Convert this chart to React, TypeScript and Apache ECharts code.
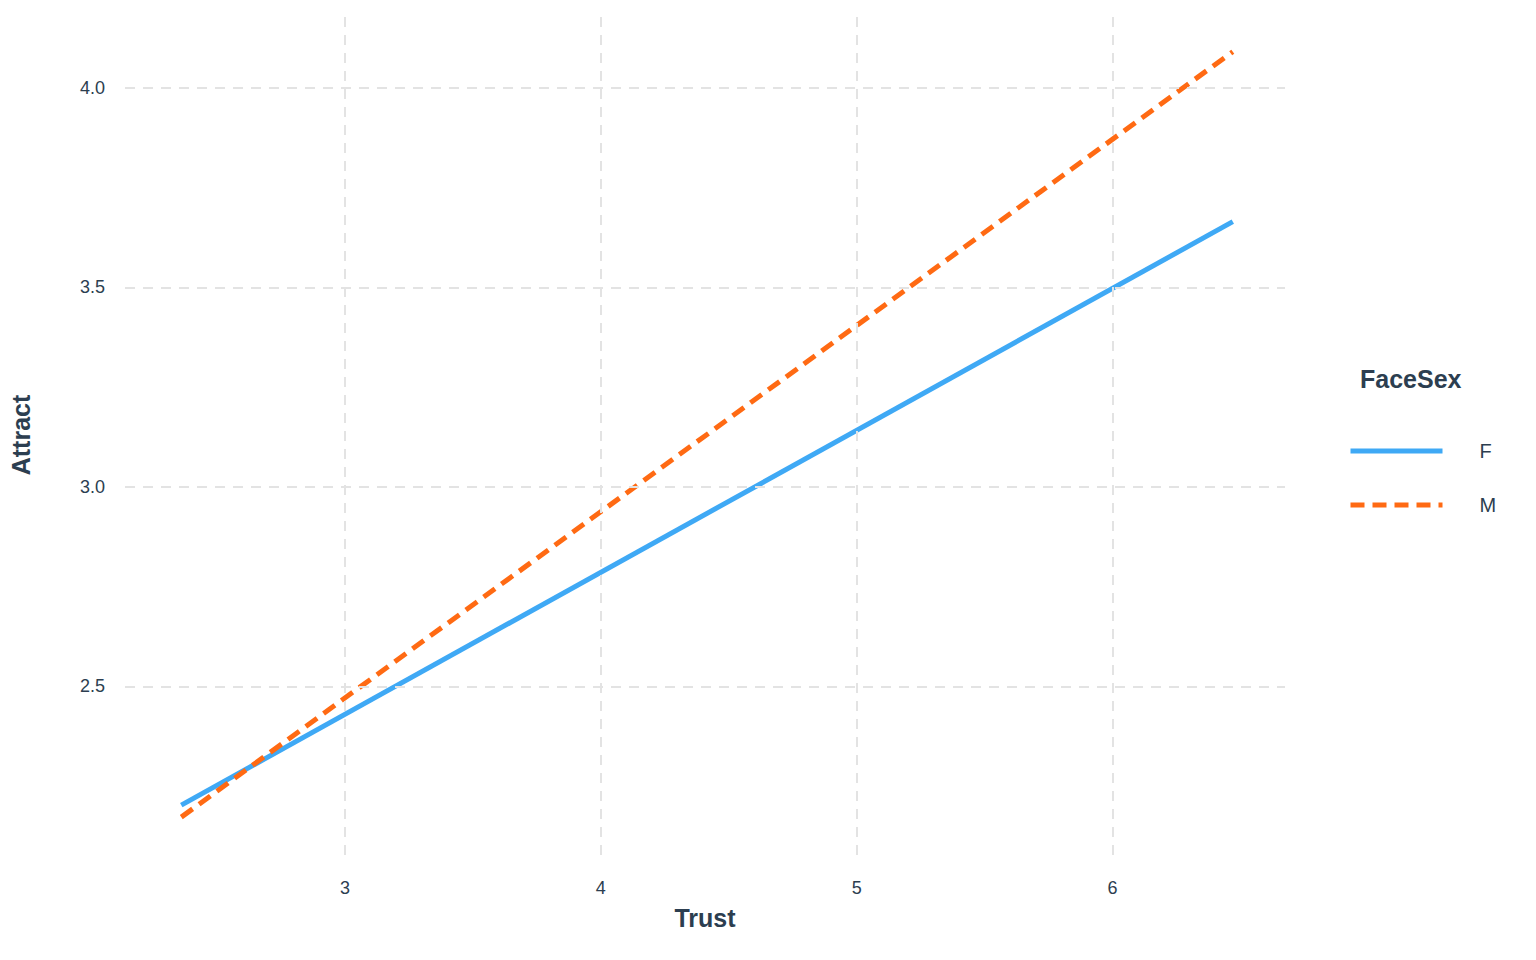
import React, { useEffect, useRef } from 'react';
import * as echarts from 'echarts';

const seriesNames = ['F', 'M'];
const trustRange = [2.36, 6.47];
const attractF = [2.202, 3.665];
const attractM = [2.172, 4.091];
const xTicks = [3, 4, 5, 6];
const yTicks = [2.5, 3.0, 3.5, 4.0];

const TEXT = '#2c3e50';
const FONT = 'Liberation Sans';

const App: React.FC = () => {
  const ref = useRef<HTMLDivElement>(null);

  useEffect(() => {
    if (!ref.current) return;
    document.body.style.margin = '0';
    const chart = echarts.init(ref.current, undefined, { renderer: 'svg' });
    const gridStyle = { color: '#e3e3e3', width: 2, type: [10, 8] as any };
    const option: any = {
      animation: false,
      textStyle: { fontFamily: FONT },
      grid: { left: 115, right: 251, top: 15, bottom: 105 },
      xAxis: {
        type: 'value', min: 2.14, max: 6.674,
        name: 'Trust', nameLocation: 'middle', nameGap: 50,
        nameTextStyle: { color: TEXT, fontSize: 25, fontWeight: 'bold', fontFamily: FONT },
        axisLine: { show: false }, axisTick: { show: false }, splitLine: { show: false },
        axisLabel: { customValues: xTicks, color: TEXT, fontSize: 18, margin: 24 },
      },
      yAxis: {
        type: 'value', min: 2.077, max: 4.183,
        name: 'Attract', nameLocation: 'middle', nameGap: 92,
        nameTextStyle: { color: TEXT, fontSize: 25, fontWeight: 'bold', fontFamily: FONT },
        axisLine: { show: false }, axisTick: { show: false }, splitLine: { show: false },
        axisLabel: { customValues: yTicks, color: TEXT, fontSize: 18, margin: 20,
          formatter: (v: number) => v.toFixed(1) },
      },
      legend: {
        orient: 'vertical', left: 1343, top: 436, itemWidth: 92, itemHeight: 14, itemGap: 34,
        data: seriesNames,
        itemStyle: { opacity: 0 },
        lineStyle: { width: 5 },
        textStyle: { color: TEXT, fontSize: 20, padding: [0, 0, 0, 32] },
      },
      graphic: [{
        type: 'text', left: 1360, top: 366,
        style: { text: 'FaceSex', fill: TEXT, font: `bold 25px "${FONT}"` },
      }],
      series: [
        {
          name: 'F', type: 'line', symbol: 'none',
          data: trustRange.map((x, i) => [x, attractF[i]]),
          lineStyle: { color: '#3fa9f5', width: 5 }, itemStyle: { color: '#3fa9f5' },
          z: 3,
          markLine: {
            silent: true, symbol: 'none', label: { show: false },
            lineStyle: gridStyle,
            data: [...xTicks.map(v => ({ xAxis: v })), ...yTicks.map(v => ({ yAxis: v }))],
          },
        },
        {
          name: 'M', type: 'line', symbol: 'none',
          data: trustRange.map((x, i) => [x, attractM[i]]),
          lineStyle: { color: '#ff6a13', width: 5, type: [14, 8] }, itemStyle: { color: '#ff6a13' },
          z: 4,
        },
      ],
    };
    chart.setOption(option);
    return () => chart.dispose();
  }, []);

  return <div ref={ref} style={{ width: 1536, height: 960 }} />;
};

export default App;
